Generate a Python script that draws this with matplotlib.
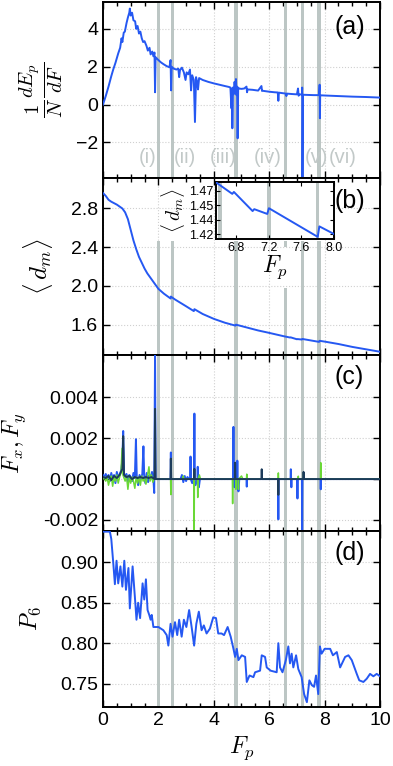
import matplotlib
matplotlib.use("Agg")
import matplotlib.pyplot as plt
import numpy as np
from matplotlib.ticker import MultipleLocator, FormatStrFormatter

plt.rcParams['font.family'] = ['Liberation Sans', 'DejaVu Sans']
plt.rcParams['mathtext.fontset'] = 'cm'

# ---- data ----
band_F = [2.0, 2.5, 4.8, 6.6, 7.2, 7.8]
roman = ['(i)', '(ii)', '(iii)', '(iv)', '(v)', '(vi)']
roman_F = [1.61, 2.97, 4.33, 5.96, 7.70, 8.65]

# (a) 1/N dEp/dF
a_F = [0, 0.1, 0.2, 0.3, 0.37, 0.45, 0.55, 0.62, 0.67, 0.7,
       0.75, 0.79, 0.85, 0.9, 0.95, 0.97, 1.0, 1.05, 1.1, 1.16,
       1.2, 1.25, 1.3, 1.35, 1.4, 1.45, 1.5, 1.57, 1.62, 1.68,
       1.72, 1.78, 1.82, 1.86, 1.88, 1.9, 2.0, 2.1, 2.2, 2.3,
       2.4, 2.44, 2.46, 2.48, 2.55, 2.65, 2.72, 2.75, 2.78, 2.85,
       2.92, 2.98, 3.02, 3.08, 3.14, 3.18, 3.22, 3.28, 3.32, 3.36,
       3.4, 3.43, 3.47, 3.6, 3.8, 4.0, 4.2, 4.4, 4.55, 4.6,
       4.62, 4.64, 4.66, 4.67, 4.69, 4.72, 4.75, 4.78, 4.8, 4.82,
       4.84, 4.86, 4.88, 4.9, 5.0, 5.1, 5.18, 5.2, 5.22, 5.4,
       5.6, 5.72, 5.74, 5.76, 6.0, 6.2, 6.31, 6.33, 6.35, 6.5,
       6.6, 6.62, 6.64, 6.8, 7.0, 7.04, 7.06, 7.1, 7.18, 7.19,
       7.2, 7.22, 7.4, 7.6, 7.8, 7.82, 7.83, 7.84, 7.86, 8.0,
       8.5, 9.0, 9.5, 10.0]
a_val = [0.0, 0.45, 0.95, 1.5, 1.85, 2.2, 2.7, 3.0, 3.5, 3.3,
         3.8, 3.85, 4.3, 4.6, 4.85, 5.07, 4.7, 4.85, 4.45, 4.4,
         4.0, 4.15, 3.75, 3.85, 3.5, 3.3, 3.35, 3.1, 2.85, 3.0,
         2.65, 2.8, 2.55, 2.75, 0.65, 2.5, 2.35, 2.22, 2.12, 2.03,
         1.97, 2.35, 0.75, 2.0, 1.9, 1.85, 1.9, 1.45, 1.82, 1.95,
         1.7, 1.3, 1.7, 1.6, 1.85, 0.75, 1.55, 1.3, -0.92, 1.45,
         1.2, 0.8, 1.4, 1.3, 1.2, 1.12, 1.05, 0.98, 0.93, 0.9,
         0.3, -0.2, 0.85, -1.25, 0.9, 0.55, 1.2, 0.65, 1.35, 0.5,
         0.95, -1.78, 0.9, 0.85, 0.83, 0.85, 0.95, 0.65, 0.8, 0.78,
         0.74, 0.98, 0.72, 0.73, 0.68, 0.65, 0.64, 0.2, 0.63, 0.6,
         0.58, 0.45, 0.58, 0.56, 0.54, 0.85, 0.47, 0.54, 0.53, 0.9,
         -4.5, 0.52, 0.51, 0.5, 0.5, 1.05, -0.72, 0.5, 0.49, 0.48,
         0.45, 0.42, 0.4, 0.37]

# (b) <d_m>
b_F = [0, 0.1, 0.2, 0.3, 0.5, 0.7, 0.8, 0.9, 1.0, 1.1,
       1.2, 1.3, 1.4, 1.5, 1.6, 1.7, 1.8, 1.9, 2.0, 2.2,
       2.44, 2.45, 2.6, 3.0, 3.28, 3.3, 3.6, 4.0, 4.4, 4.78,
       4.8, 5.2, 5.6, 6.0, 6.5, 6.75, 6.77, 7.0, 7.02, 7.18,
       7.2, 7.8, 7.82, 8.0, 8.5, 9.0, 9.5, 10.0]
b_val = [2.96, 2.93, 2.89, 2.87, 2.84, 2.80, 2.76, 2.69, 2.58, 2.47,
         2.38, 2.30, 2.24, 2.18, 2.13, 2.09, 2.05, 2.01, 1.97, 1.92,
         1.87, 1.89, 1.86, 1.79, 1.74, 1.76, 1.71, 1.66, 1.62, 1.59,
         1.60, 1.57, 1.54, 1.515, 1.482, 1.467, 1.469, 1.449, 1.451, 1.446,
         1.452, 1.422, 1.433, 1.425, 1.40, 1.37, 1.345, 1.32]

# (c) forces, in units of 1e-3
fx_F = [0.0, 0.05, 0.1, 0.15, 0.2, 0.25, 0.3, 0.35, 0.4, 0.45,
        0.5, 0.55, 0.6, 0.65, 0.7, 0.73, 0.76, 0.8, 0.85, 0.9,
        0.95, 1.0, 1.05, 1.1, 1.15, 1.19, 1.22, 1.27, 1.32, 1.37,
        1.42, 1.46, 1.49, 1.53, 1.58, 1.63, 1.68, 1.72, 1.77, 1.82,
        1.85, 1.88, 1.9, 2.44, 2.45, 2.46, 2.8, 2.85, 2.9, 2.95,
        3.0, 3.05, 3.1, 3.15, 3.16, 3.17, 3.22, 3.29, 3.3, 3.31,
        3.34, 3.41, 3.42, 3.43, 3.46, 3.5, 4.70, 4.71, 4.72, 4.74,
        4.8, 4.84, 4.85, 4.86, 4.89, 4.92, 5.18, 5.19, 5.2, 6.32,
        6.33, 6.34, 6.77, 6.78, 6.79, 6.8, 6.81, 7.01, 7.02, 7.03,
        7.18, 7.19, 7.2, 7.85, 7.86, 7.87, 10.0]
fx_val = [0.2, 0.1, 0.25, 0.05, 0.2, -0.1, 0.3, 0.0, 0.2, -0.2,
          0.35, 0.1, 0.2, 0.4, 0.9, 2.35, 0.3, 0.1, 0.25, -0.15,
          0.2, 0.1, -0.1, 0.3, 0.05, 1.95, 0.1, -0.3, 0.2, 0.0,
          0.25, 1.6, 0.1, -0.2, 0.3, -0.15, 0.2, 0.0, 0.35, 0.0,
          -0.68, 6.2, 0.0, 0.0, 1.3, 0.0, 0.0, 0.2, -0.15, 0.15,
          -0.1, 0.1, 0.0, 0.0, 1.1, 0.0, -0.2, 0.0, 3.2, 0.0,
          -0.3, 0.0, 0.6, 0.0, -0.4, 0.0, 0.0, 2.55, 0.0, -0.4,
          0.3, 0.0, 0.9, 0.0, -0.6, 0.0, 0.0, -0.37, 0.0, 0.0,
          -1.97, 0.0, 0.0, 0.48, 0.0, -0.4, 0.0, 0.0, -0.95, 0.0,
          0.0, -3.0, 0.0, 0.0, -0.5, 0.0, 0.0]

fy_F = [0.0, 0.05, 0.1, 0.15, 0.2, 0.25, 0.3, 0.35, 0.4, 0.45,
        0.5, 0.55, 0.6, 0.65, 0.69, 0.72, 0.8, 0.85, 0.9, 0.95,
        1.0, 1.05, 1.1, 1.15, 1.2, 1.25, 1.3, 1.35, 1.4, 1.45,
        1.5, 1.55, 1.6, 1.66, 1.7, 1.75, 1.8, 1.85, 2.44, 2.45,
        2.46, 2.88, 2.9, 2.92, 3.28, 3.29, 3.3, 3.41, 3.42, 3.43,
        3.48, 3.52, 4.67, 4.68, 4.69, 4.79, 4.8, 4.81, 4.88, 4.89,
        4.9, 5.0, 5.05, 5.18, 5.19, 5.2, 6.32, 6.33, 6.34, 7.04,
        7.05, 7.06, 7.23, 7.24, 7.25, 7.85, 7.86, 7.87, 10.0]
fy_val = [0.0, 0.1, -0.1, 0.1, -0.3, 0.0, 0.15, -0.35, 0.1, -0.1,
          0.2, -0.2, 0.1, 0.3, 1.5, 0.2, -0.1, 0.15, -0.5, 0.1,
          -0.2, 0.1, -0.1, -0.45, 0.1, -0.2, 0.1, -0.3, 0.15, -0.1,
          0.05, -0.25, 0.1, 0.6, -0.1, 0.2, -0.15, 0.0, 0.0, -0.76,
          0.0, 0.0, 0.15, 0.0, 0.0, -3.0, 0.0, 0.0, -0.9, 0.0,
          0.2, 0.0, 0.0, -1.2, 0.0, 0.0, -0.5, 0.0, 0.0, -0.5,
          0.0, 0.15, 0.0, 0.0, 0.24, 0.0, 0.0, 0.3, 0.0, 0.0,
          0.14, 0.0, 0.0, 0.3, 0.0, 0.0, 0.8, 0.0, 0.0]

fn_F = [0.0, 0.1, 0.2, 0.3, 0.4, 0.5, 0.6, 0.7, 0.73, 0.76,
        0.85, 0.95, 1.05, 1.15, 1.25, 1.35, 1.45, 1.55, 1.65, 1.75,
        1.86, 1.88, 1.9, 2.44, 2.45, 2.46, 3.29, 3.3, 3.31, 4.76,
        4.77, 4.78, 5.72, 5.73, 5.74, 6.32, 6.33, 6.34, 7.23, 7.24,
        7.25, 10.0]
fn_val = [0.1, 0.05, 0.15, -0.05, 0.15, 0.05, 0.2, 0.5, 2.1, 0.2,
          0.1, 0.15, 0.0, 0.1, 0.05, 0.1, 0.05, 0.1, 0.05, 0.1,
          0.0, 3.43, 0.0, 0.0, 1.0, 0.0, 0.0, 0.5, 0.0, 0.0,
          0.8, 0.0, 0.0, 0.48, 0.0, 0.0, -0.77, 0.0, 0.0, 0.35,
          0.0, 0.0]

# (d) P6
d_F = [0.0, 0.25, 0.3, 0.37, 0.43, 0.49, 0.55, 0.63, 0.70, 0.77,
       0.83, 0.92, 0.97, 1.07, 1.15, 1.21, 1.27, 1.34, 1.43, 1.49,
       1.55, 1.61, 1.67, 1.72, 1.76, 1.82, 2.0, 2.18, 2.3, 2.36,
       2.44, 2.51, 2.6, 2.68, 2.75, 2.84, 2.92, 3.01, 3.11, 3.2,
       3.29, 3.37, 3.46, 3.56, 3.64, 3.74, 3.86, 3.98, 4.08, 4.16,
       4.28, 4.37, 4.5, 4.61, 4.71, 4.77, 4.83, 4.89, 5.01, 5.13,
       5.19, 5.29, 5.43, 5.49, 5.67, 5.73, 5.85, 5.91, 6.05, 6.27,
       6.33, 6.39, 6.48, 6.6, 6.69, 6.75, 6.81, 6.87, 6.97, 7.05,
       7.17, 7.26, 7.36, 7.45, 7.54, 7.62, 7.69, 7.77, 7.83, 7.89,
       8.0, 8.2, 8.3, 8.44, 8.56, 8.74, 8.86, 8.98, 9.16, 9.25,
       9.4, 9.52, 9.64, 9.76, 9.88, 10.0]
d_val = [0.938, 0.938, 0.929, 0.900, 0.873, 0.902, 0.874, 0.895, 0.870, 0.902,
         0.866, 0.893, 0.843, 0.895, 0.858, 0.829, 0.850, 0.831, 0.874, 0.854,
         0.879, 0.841, 0.835, 0.829, 0.835, 0.820, 0.820, 0.816, 0.810, 0.797,
         0.824, 0.808, 0.826, 0.810, 0.829, 0.808, 0.829, 0.820, 0.841, 0.820,
         0.797, 0.824, 0.839, 0.816, 0.822, 0.812, 0.818, 0.832, 0.831, 0.812,
         0.812, 0.810, 0.820, 0.808, 0.793, 0.783, 0.793, 0.779, 0.785, 0.783,
         0.752, 0.760, 0.758, 0.764, 0.766, 0.785, 0.783, 0.770, 0.766, 0.764,
         0.800, 0.770, 0.764, 0.779, 0.796, 0.775, 0.787, 0.770, 0.785, 0.768,
         0.758, 0.737, 0.727, 0.754, 0.748, 0.746, 0.760, 0.737, 0.796, 0.787,
         0.793, 0.793, 0.785, 0.789, 0.770, 0.783, 0.785, 0.779, 0.762, 0.754,
         0.752, 0.756, 0.762, 0.759, 0.762, 0.759]

blue = '#2558f2'
green = '#6ad836'
navy = '#1c3b5a'
band_col = '#bcc6c4'
grid_kw = dict(color='#d0d0d0', linestyle=':', linewidth=0.8)

fig, axes = plt.subplots(4, 1, figsize=(3.93, 7.66), dpi=100, sharex=True)
fig.subplots_adjust(left=0.262, right=0.967, top=0.997, bottom=0.077, hspace=0)
ax_a, ax_b, ax_c, ax_d = axes

bw = 0.06
for ax in axes:
    ax.set_xlim(0, 10)
    ax.xaxis.set_major_locator(MultipleLocator(2))
    ax.xaxis.set_minor_locator(MultipleLocator(0.5))
    ax.tick_params(which='both', direction='in', top=True, right=True,
                   labelsize=14, width=1.0)
    ax.tick_params(which='major', length=5)
    ax.tick_params(which='minor', length=3)
    ax.grid(True, which='major', **grid_kw)
    ax.set_axisbelow(True)
    for s in ax.spines.values():
        s.set_linewidth(1.4)

# (a)
ax_a.set_ylim(-3.9, 5.4)
for f in band_F:
    ax_a.axvspan(f - bw, f + bw, color=band_col, lw=0, zorder=1)
ax_a.plot(a_F, a_val, color=blue, lw=1.4, zorder=3)
ax_a.set_yticks([-2, 0, 2, 4])
for lab, f in zip(roman, roman_F):
    ax_a.text(f, -2.79, lab, color='#c2c9c8', fontsize=14.5, ha='center', va='center')
ax_a.set_ylabel(r'$\frac{1}{N}\frac{dE_p}{dF}$', fontsize=21)
ax_a.yaxis.set_label_coords(-0.137, 0.5)
ax_a.text(0.89, 0.86, '(a)', transform=ax_a.transAxes, fontsize=18, ha='center', va='center')

# (b)
ax_b.set_ylim(1.29, 3.11)
for f in band_F:
    if f == 6.6:
        ax_b.fill_betweenx([1.29, 1.98], f - bw, f + bw, color=band_col, lw=0, zorder=1)
        ax_b.fill_betweenx([2.40, 2.46], f - bw, f + bw, color=band_col, lw=0, zorder=1)
    else:
        ax_b.fill_betweenx([1.29, 2.46], f - bw, f + bw, color=band_col, lw=0, zorder=1)
ax_b.plot(b_F, b_val, color=blue, lw=1.4, zorder=3)
ax_b.set_yticks([1.6, 2.0, 2.4, 2.8])
ax_b.yaxis.set_major_formatter(FormatStrFormatter('%.1f'))
ax_b.set_ylabel(r'$\langle\, d_m \rangle$', fontsize=18)
ax_b.yaxis.set_label_coords(-0.173, 0.5)
ax_b.text(0.89, 0.875, '(b)', transform=ax_b.transAxes, fontsize=18, ha='center', va='center')

# inset
ins = fig.add_axes([0.5496, 0.688, 0.3003, 0.0744])
ins.set_xlim(6.55, 8.0)
ins.set_ylim(1.4198, 1.4794)
for f in band_F[3:]:
    ins.axvspan(f - 0.02, f + 0.02, color=band_col, lw=0, zorder=1)
ins.plot(b_F, b_val, color=blue, lw=1.4, zorder=3)
ins.set_xticks([6.8, 7.2, 7.6, 8.0])
ins.set_yticks([1.425, 1.44, 1.455, 1.47])
ins.set_yticklabels(['1.42', '1.44', '1.45', '1.47'])
ins.tick_params(direction='in', labelsize=9, length=3, top=True, right=True, pad=2)
for s in ins.spines.values():
    s.set_linewidth(1.4)
ins.set_xlabel(r'$F_p$', fontsize=17, labelpad=0)
ins.set_ylabel(r'$\langle\, d_m \rangle$', fontsize=14, labelpad=1)

# (c)
ax_c.set_ylim(-0.00253, 0.00608)
for f in band_F:
    ax_c.axvspan(f - bw, f + bw, color=band_col, lw=0, zorder=1)
ax_c.plot(fx_F, np.array(fx_val) * 1e-3, color=blue, lw=1.4, zorder=3)
ax_c.plot(fy_F, np.array(fy_val) * 1e-3, color=green, lw=1.1, zorder=3)
ax_c.plot(fn_F, np.array(fn_val) * 1e-3, color=navy, lw=1.4, zorder=4)
ax_c.set_yticks([-0.002, 0.0, 0.002, 0.004])
ax_c.yaxis.set_major_formatter(FormatStrFormatter('%.3f'))
ax_c.set_ylabel(r'$F_x, F_y$', fontsize=17)
ax_c.yaxis.set_label_coords(-0.271, 0.5)
ax_c.text(0.89, 0.875, '(c)', transform=ax_c.transAxes, fontsize=18, ha='center', va='center')

# (d)
ax_d.set_ylim(0.721, 0.939)
for f in band_F:
    ax_d.axvspan(f - bw, f + bw, color=band_col, lw=0, zorder=1)
ax_d.plot(d_F, d_val, color=blue, lw=1.4, zorder=3)
ax_d.set_yticks([0.75, 0.80, 0.85, 0.90])
ax_d.yaxis.set_major_formatter(FormatStrFormatter('%.2f'))
ax_d.set_ylabel(r'$P_6$', fontsize=17)
ax_d.yaxis.set_label_coords(-0.217, 0.5)
ax_d.set_xlabel(r'$F_p$', fontsize=17)
ax_d.set_xticks([0, 2, 4, 6, 8, 10])
ax_d.text(0.89, 0.875, '(d)', transform=ax_d.transAxes, fontsize=18, ha='center', va='center')

fig.savefig('out.png', dpi=100)
